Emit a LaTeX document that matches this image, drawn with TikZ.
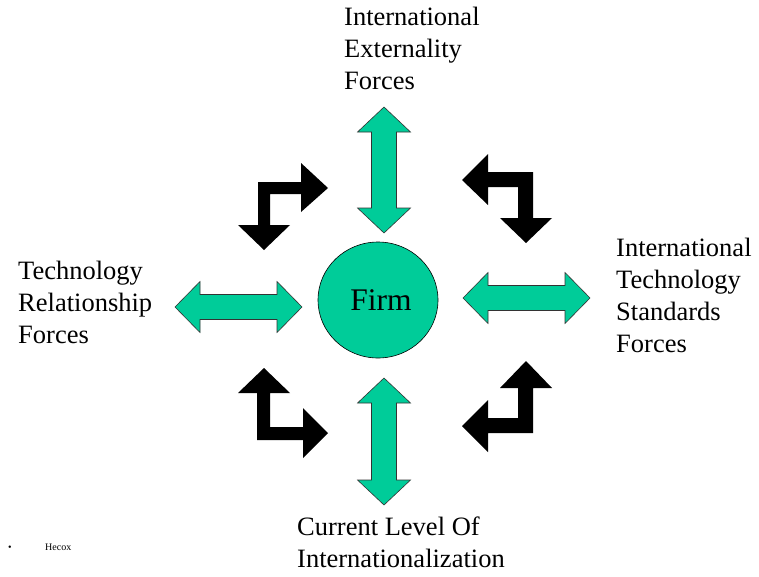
\documentclass[tikz,border=0pt]{standalone}
\usepackage{fontspec}
\setmainfont{Liberation Serif}
\usetikzlibrary{shapes.geometric}
\definecolor{firmgreen}{HTML}{00CC99}
\begin{document}
\begin{tikzpicture}[x=1pt,y=-1pt,
  lbl/.style={anchor=base west,inner sep=0pt,align=left,font=\fontsize{26.5}{32}\selectfont},
  garrow/.style={fill=firmgreen,draw=black!80,line width=0.6pt,line join=miter},
  barrow/.style={fill=black,draw=none}]
\useasboundingbox (0,0) rectangle (759,576);
% central firm
\node[ellipse,fill=firmgreen,draw=black,line width=0.6pt,minimum width=120pt,minimum height=116pt,inner sep=0pt] (firmshape) at (378,300) {};
\node[inner sep=0pt,anchor=base,font=\fontsize{31.5}{36}\selectfont] (firm) at (381,310) {Firm};
% labels (anchor = baseline of last line)
\node[lbl] (top) at (344,89) {International\\Externality\\Forces};
\node[lbl] (right) at (616,352) {International\\Technology\\Standards\\Forces};
\node[lbl] (left) at (18,343) {Technology\\Relationship\\Forces};
\node[lbl] (bottom) at (297,567) {Current Level Of\\Internationalization};
\node[anchor=base west,inner sep=0pt,font=\fontsize{10}{12}\selectfont] (bul) at (8,550) {•};
\node[anchor=base west,inner sep=0pt,font=\fontsize{10}{12}\selectfont] (hecox) at (45,550) {Hecox};
% green double arrows
% top vertical: x=384, y 107..233
\draw[garrow] (384,107) -- (410.5,132) -- (396.5,132) -- (396.5,208) -- (410.5,208) -- (384,233)
  -- (357.5,208) -- (371.5,208) -- (371.5,132) -- (357.5,132) -- cycle;
% bottom vertical: x=384, y 378..505
\draw[garrow] (384,378) -- (410.5,403) -- (396.5,403) -- (396.5,480) -- (410.5,480) -- (384,505)
  -- (357.5,480) -- (371.5,480) -- (371.5,403) -- (357.5,403) -- cycle;
% left horizontal: y=307, x 175..302
\draw[garrow] (175,307) -- (200,281.5) -- (200,294.5) -- (277,294.5) -- (277,281.5) -- (302,307)
  -- (277,332.5) -- (277,319.5) -- (200,319.5) -- (200,332.5) -- cycle;
% right horizontal: y=298, x 463..590
\draw[garrow] (463,298) -- (488,272.5) -- (488,285.5) -- (565,285.5) -- (565,272.5) -- (590,298)
  -- (565,323.5) -- (565,310.5) -- (488,310.5) -- (488,323.5) -- cycle;
% black bent arrows
% top-left
\fill[barrow] (258,182) -- (301,182) -- (301,163) -- (328,188) -- (301,212) -- (301,194)
  -- (270,194) -- (270,225) -- (290,225) -- (264,250) -- (238,225) -- (258,225) -- cycle;
% top-right
\fill[barrow] (462,180) -- (488,154) -- (488,172) -- (533,172) -- (533,218) -- (552,218)
  -- (526,243) -- (500,218) -- (518,218) -- (518,187) -- (488,187) -- (488,205) -- cycle;
% bottom-left
\fill[barrow] (264,368) -- (290,393) -- (270,393) -- (270,427) -- (303,427) -- (303,408)
  -- (328,433) -- (303,458) -- (303,440) -- (257,440) -- (257,393) -- (238,393) -- cycle;
% bottom-right
\fill[barrow] (526,361) -- (552,388) -- (533,388) -- (533,433) -- (488,433) -- (488,452)
  -- (462,426) -- (488,400) -- (488,418) -- (518,418) -- (518,388) -- (500,388) -- cycle;
\end{tikzpicture}
\end{document}
